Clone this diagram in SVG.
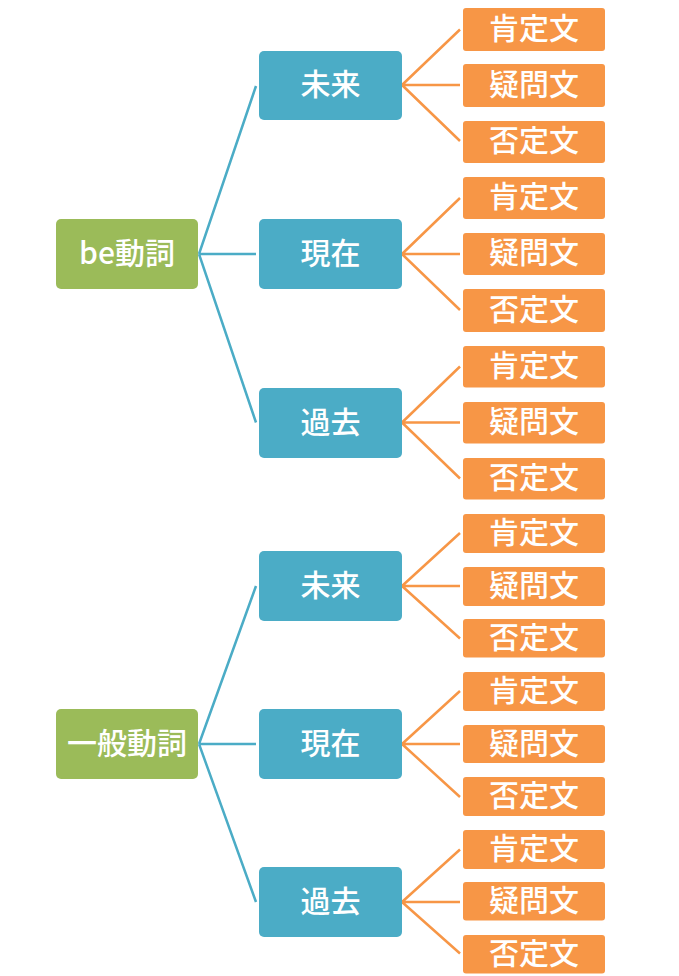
<svg xmlns="http://www.w3.org/2000/svg" width="679" height="976" viewBox="0 0 679 976">
<style>
.g{fill:#9BBB59}
.b{fill:#4BACC6}
.o{fill:#F79646}
text{fill:#fff;font-family:"Noto Sans CJK JP","Noto Sans",sans-serif;font-size:30px;font-weight:500;text-anchor:middle;dominant-baseline:central}
.lb{stroke:#4BACC6;stroke-width:2.5;fill:none}
.lo{stroke:#F79646;stroke-width:2.5;fill:none}
</style>
<rect width="679" height="976" fill="#fff"/>
<g id="connectors">
<path class="lb" d="M199,254 L256,86 M199,254 L256,254 M199,254 L256,422.5"/>
<path class="lb" d="M199,744 L256,586 M199,744 L256,744 M199,744 L256,902"/>
<path class="lo" d="M402,85 L460,29.5 M402,85 L460,85 M402,85 L460,141"/>
<path class="lo" d="M402,254 L460,198 M402,254 L460,254 M402,254 L460,310"/>
<path class="lo" d="M402,422.5 L460,366.5 M402,422.5 L460,422.5 M402,422.5 L460,478.5"/>
<path class="lo" d="M402,586 L460,533 M402,586 L460,586 M402,586 L460,638.5"/>
<path class="lo" d="M402,744 L460,691 M402,744 L460,744 M402,744 L460,797"/>
<path class="lo" d="M402,902 L460,849.5 M402,902 L460,902 M402,902 L460,953.5"/>
</g>
<g id="n-be"><rect class="g" x="56" y="219" width="142" height="70" rx="5"/><text x="127" y="251">be動詞</text></g>
<g id="n-ippan"><rect class="g" x="56" y="709" width="142" height="70" rx="5"/><text x="127" y="741">一般動詞</text></g>
<g id="n-b-mirai"><rect class="b" x="259" y="51" width="143" height="69" rx="5"/><text x="330.5" y="82">未来</text></g>
<g id="n-b-genzai"><rect class="b" x="259" y="219" width="143" height="70" rx="5"/><text x="330.5" y="251">現在</text></g>
<g id="n-b-kako"><rect class="b" x="259" y="388" width="143" height="70" rx="5"/><text x="330.5" y="420">過去</text></g>
<g id="n-i-mirai"><rect class="b" x="259" y="551" width="143" height="70" rx="5"/><text x="330.5" y="583">未来</text></g>
<g id="n-i-genzai"><rect class="b" x="259" y="709" width="143" height="70" rx="5"/><text x="330.5" y="741">現在</text></g>
<g id="n-i-kako"><rect class="b" x="259" y="867" width="143" height="70" rx="5"/><text x="330.5" y="899">過去</text></g>
<g id="o1"><rect class="o" x="463" y="8" width="142" height="43" rx="3"/><text x="534" y="25.5">肯定文</text></g>
<g id="o2"><rect class="o" x="463" y="64" width="142" height="43" rx="3"/><text x="534" y="81.5">疑問文</text></g>
<g id="o3"><rect class="o" x="463" y="121" width="142" height="42" rx="3"/><text x="534" y="137.5">否定文</text></g>
<g id="o4"><rect class="o" x="463" y="177" width="142" height="42" rx="3"/><text x="534" y="193.5">肯定文</text></g>
<g id="o5"><rect class="o" x="463" y="233" width="142" height="42" rx="3"/><text x="534" y="249.5">疑問文</text></g>
<g id="o6"><rect class="o" x="463" y="289" width="142" height="43" rx="3"/><text x="534" y="306.5">否定文</text></g>
<g id="o7"><rect class="o" x="463" y="346" width="142" height="41.5" rx="3"/><text x="534" y="362.5">肯定文</text></g>
<g id="o8"><rect class="o" x="463" y="402" width="142" height="41.5" rx="3"/><text x="534" y="418.5">疑問文</text></g>
<g id="o9"><rect class="o" x="463" y="458" width="142" height="41.5" rx="3"/><text x="534" y="474.5">否定文</text></g>
<g id="o10"><rect class="o" x="463" y="514" width="142" height="39" rx="3"/><text x="534" y="529.5">肯定文</text></g>
<g id="o11"><rect class="o" x="463" y="567" width="142" height="39" rx="3"/><text x="534" y="582.5">疑問文</text></g>
<g id="o12"><rect class="o" x="463" y="619" width="142" height="38.5" rx="3"/><text x="534" y="634.5">否定文</text></g>
<g id="o13"><rect class="o" x="463" y="672" width="142" height="39" rx="3"/><text x="534" y="687.5">肯定文</text></g>
<g id="o14"><rect class="o" x="463" y="725" width="142" height="38" rx="3"/><text x="534" y="740.5">疑問文</text></g>
<g id="o15"><rect class="o" x="463" y="777" width="142" height="39" rx="3"/><text x="534" y="792.5">否定文</text></g>
<g id="o16"><rect class="o" x="463" y="830" width="142" height="39" rx="3"/><text x="534" y="845.5">肯定文</text></g>
<g id="o17"><rect class="o" x="463" y="882" width="142" height="38.5" rx="3"/><text x="534" y="897.5">疑問文</text></g>
<g id="o18"><rect class="o" x="463" y="935" width="142" height="38.5" rx="3"/><text x="534" y="950.5">否定文</text></g>
</svg>
